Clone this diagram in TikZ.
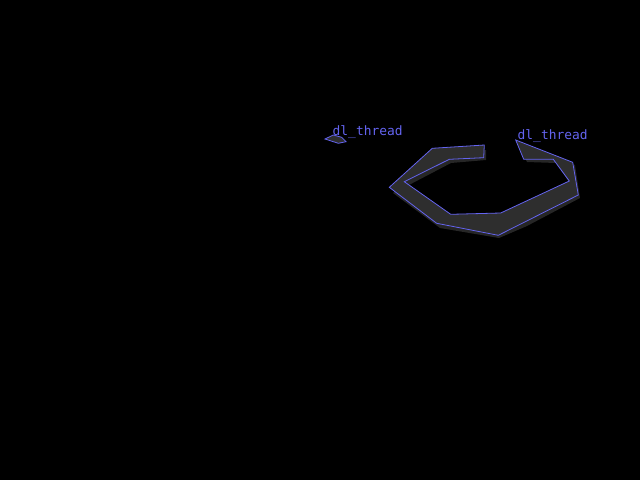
\documentclass[tikz,border=0pt]{standalone}
\usepackage{fontspec}
\newfontfamily\labelfont{DejaVu Sans Mono}
\definecolor{outline}{HTML}{6464F0}
\definecolor{blobgray}{HTML}{2E2E2E}
\definecolor{haze}{HTML}{262626}
\tikzset{
    threadlabel/.style={inner sep=0pt, anchor=base west, text=outline, font=\labelfont\fontsize{12.9}{13}\selectfont},
    threadshape/.style={fill=blobgray, draw=outline, line width=0.8pt, line join=miter}
}
\begin{document}
\begin{tikzpicture}[x=1pt, y=-1pt]
    % Background
    \fill[black] (0, 0) rectangle (640, 480);
    \useasboundingbox (0, 0) rectangle (640, 480);

    % Soft shading round the big shape
    \fill[haze] (486, 150) -- (434, 152) -- (393, 193) -- (440, 228) -- (499, 238) -- (527, 226)
        -- (580, 198) -- (575, 165) -- (519, 144) -- (527, 162) -- (556, 163) -- (571, 185)
        -- (503, 217) -- (453, 218) -- (407, 186) -- (451, 163) -- (486, 160) -- cycle;

    % Draw the shapes
    \draw[threadshape] (325, 139) -- (333.3, 135) -- (341.7, 137.3) -- (346, 141.7) -- (338.3, 143.3) -- cycle;
    \draw[threadshape] (484.3, 145) -- (432.3, 148.3) -- (389.3, 187.3) -- (436.7, 223.3) -- (498.3, 235.3)
        -- (578.3, 195) -- (572.7, 162.3) -- (515.7, 140) -- (523.7, 159.3) -- (553.3, 159.3)
        -- (569.3, 181) -- (500.7, 213) -- (450.7, 214.3) -- (404.3, 181.7) -- (449.3, 159.3)
        -- (483.7, 157.7) -- cycle;

    % Define the nodes
    \node[threadlabel] (thread1) at (332.5, 135) {dl\_thread};
    \node[threadlabel] (thread2) at (517.5, 139.5) {dl\_thread};
\end{tikzpicture}
\end{document}
